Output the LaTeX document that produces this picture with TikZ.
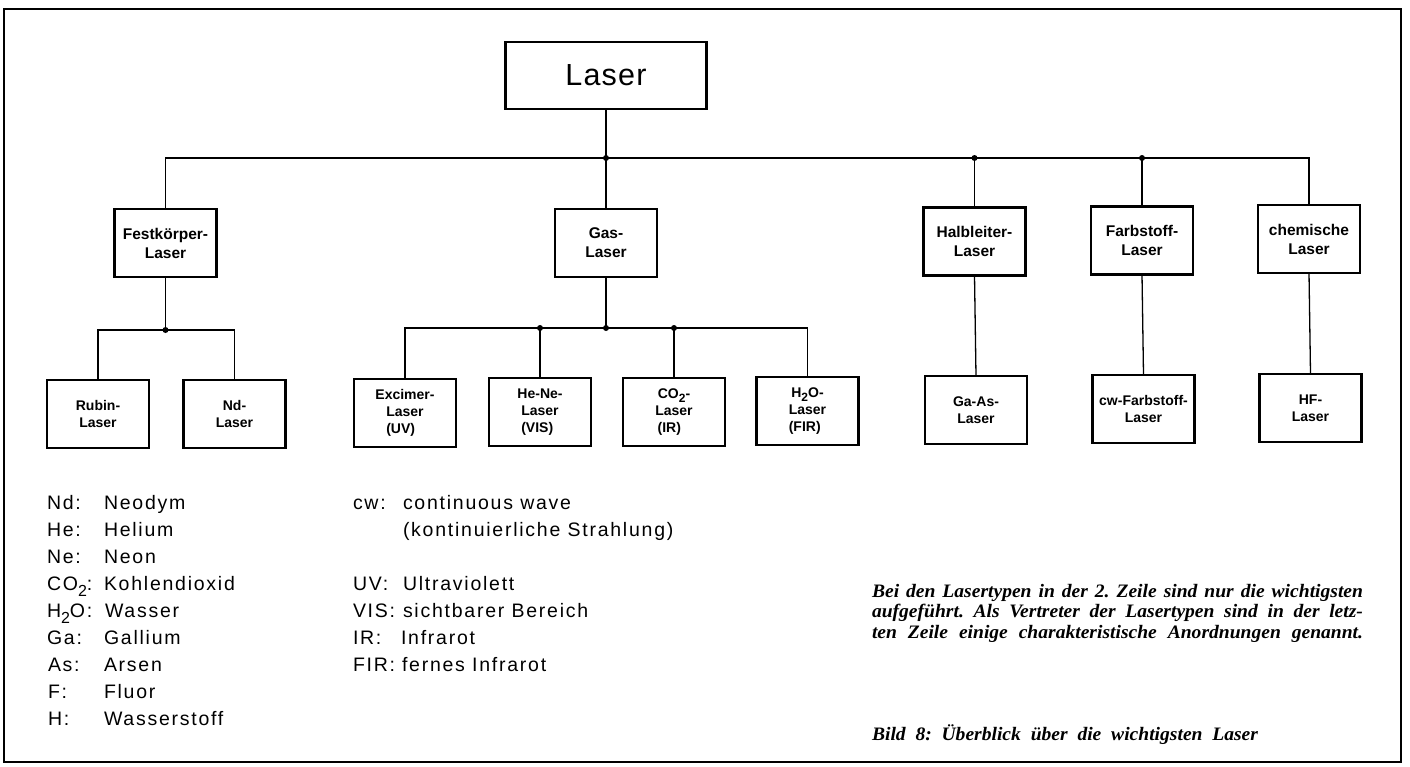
\documentclass[tikz,border=0pt]{standalone}
\usepackage{fontspec}
\setmainfont{Liberation Sans}
\newfontfamily\titlefont[LetterSpace=4]{Liberation Sans}
\newfontfamily\boxfont{Liberation Sans}
\newfontfamily\legfont[LetterSpace=9]{Liberation Sans}
\newfontfamily\capfont[FakeStretch=1.03]{Liberation Serif}
\newcommand{\lasunder}[1]{\rlap{#1}\phantom{Laser}}
\newcommand{\subtwo}[1]{\raisebox{-0.32em}{\fontsize{#1}{#1}\selectfont 2}}
\frenchspacing
\begin{document}
\begin{tikzpicture}[x=1pt,y=-1pt,
  every node/.style={inner sep=0pt, outer sep=0pt},
  titlebox/.style={draw, line width=2.2pt, minimum width=201pt, minimum height=67pt,
    font=\titlefont\fontsize{30.5}{36}\selectfont},
  typebox/.style={draw, line width=2.2pt, minimum width=102pt, minimum height=68pt,
    align=center, font=\boxfont\bfseries\fontsize{15.5}{19}\selectfont},
  leafbox/.style={draw, line width=2.2pt, minimum width=102pt, minimum height=68pt,
    align=center, font=\boxfont\bfseries\fontsize{14}{17}\selectfont},
  conn/.style={line width=1.3pt},
  junction/.style={fill, circle, minimum size=6pt},
  legend/.style={anchor=base west, font=\legfont\fontsize{19.5}{24}\selectfont},
  captext/.style={anchor=base west, font=\capfont\bfseries\itshape\fontsize{19}{21}\selectfont}
]
\useasboundingbox (0,0) rectangle (1410,766);
\fill[white] (0,0) rectangle (1410,766);
\draw[line width=2.5pt] (4,9) rectangle (1401,762);

% level 1
\node[titlebox] (laser) at (606,75.5) {Laser};

% level 2
\node[typebox] (fest) at (165.5,243) {Festkörper-\\Laser};
\node[typebox] (gas)  at (606,243) {Gas-\\Laser};
\node[typebox] (halb) at (974.5,241.5) {Halbleiter-\\Laser};
\node[typebox] (farb) at (1142,240.5) {Farbstoff-\\Laser};
\node[typebox] (chem) at (1309,239) {chemische\\Laser};

% level 3
\node[leafbox] (rubin) at (98,414) {Rubin-\\Laser};
\node[leafbox] (nd)    at (234.5,414) {Nd-\\Laser};
\node[leafbox] (exc)   at (405,413) {Excimer-\\Laser\\\lasunder{(UV)}};
\node[leafbox] (hene)  at (540,412) {He-Ne-\\Laser\\\lasunder{(VIS)}};
\node[leafbox] (co2)   at (674,412) {CO\subtwo{12}-\\Laser\\\lasunder{\,(IR)}};
\node[leafbox] (h2o)   at (807.5,411) {H\subtwo{12}O-\\Laser\\\lasunder{(FIR)}};
\node[leafbox] (gaas)  at (976,410) {Ga-As-\\Laser};
\node[leafbox] (cwf)   at (1143.5,409) {cw-Farbstoff-\\Laser};
\node[leafbox] (hf)    at (1310.5,408) {HF-\\Laser};

% bus coordinates
\coordinate (bus) at (606,158);
\coordinate (subA) at (166,330);
\coordinate (subB) at (606,328);

% main bus
\draw[conn] (laser.south) -- (gas.north);
\draw[conn] (fest.north) |- (chem.north |- bus) -- (chem.north);
\draw[conn] (halb.north |- bus) -- (halb.north);
\draw[conn] (farb.north |- bus) -- (farb.north);
\node[junction] (j1) at (gas.north |- bus) {};
\node[junction] (j2) at (halb.north |- bus) {};
\node[junction] (j3) at (farb.north |- bus) {};

% Festkoerper sub-bus
\draw[conn] (fest.south) -- (fest.south |- subA);
\draw[conn] (rubin.north) |- (nd.north |- subA) -- (nd.north);
\node[junction] (j4) at (fest.south |- subA) {};

% Gas sub-bus
\draw[conn] (gas.south) -- (gas.south |- subB);
\draw[conn] (exc.north) |- (h2o.north |- subB) -- (h2o.north);
\draw[conn] (hene.north |- subB) -- (hene.north);
\draw[conn] (co2.north |- subB) -- (co2.north);
\node[junction] (j5) at (hene.north |- subB) {};
\node[junction] (j6) at (gas.south |- subB) {};
\node[junction] (j7) at (co2.north |- subB) {};

% direct lines
\draw[conn] (halb.south) -- (gaas.north);
\draw[conn] (farb.south) -- (cwf.north);
\draw[conn] (chem.south) -- (hf.north);

% legend left
\node[legend] (l1) at (47,509) {Nd:};  \node[legend] (v1) at (104,509) {Neodym};
\node[legend] (l2) at (47,536) {He:};  \node[legend] (v2) at (104,536) {Helium};
\node[legend] (l3) at (47,563.5) {Ne:};  \node[legend] (v3) at (104,563.5) {Neon};
\node[legend] (l4) at (47,590) {CO\subtwo{16}:};  \node[legend] (v4) at (104,590) {Kohlendioxid};
\node[legend] (l5) at (47,617.5) {H\subtwo{16}O:};  \node[legend] (v5) at (105,617.5) {Wasser};
\node[legend] (l6) at (47,644) {Ga:};  \node[legend] (v6) at (104,644) {Gallium};
\node[legend] (l7) at (48,671.5) {As:};  \node[legend] (v7) at (104,671.5) {Arsen};
\node[legend] (l8) at (48,698.5) {F:};  \node[legend] (v8) at (104,698.5) {Fluor};
\node[legend] (l9) at (48,725.5) {H:};  \node[legend] (v9) at (104,725.5) {Wasserstoff};

% legend right
\node[legend] (r1) at (353,509) {cw:};  \node[legend] (w1) at (403,509) {continuous wave};
\node[legend] (w1b) at (403,536) {(kontinuierliche Strahlung)};
\node[legend] (r2) at (353,590) {UV:};  \node[legend] (w2) at (403,590) {Ultraviolett};
\node[legend] (r3) at (353,617.5) {VIS:};  \node[legend] (w3) at (403,617.5) {sichtbarer Bereich};
\node[legend] (r4) at (353,644) {IR:};  \node[legend] (w4) at (401,644) {Infrarot};
\node[legend] (r5) at (353,671.5) {FIR:};  \node[legend] (w5) at (402,671.5) {fernes Infrarot};

% caption
\node[captext] (c1) at (872,597) {\makebox[491pt][s]{Bei den Lasertypen in der 2. Zeile sind nur die wichtigsten}};
\node[captext] (c2) at (872,617.5) {\makebox[491pt][s]{aufgeführt. Als Vertreter der Lasertypen sind in der letz-}};
\node[captext] (c3) at (872,638) {\makebox[491pt][s]{ten Zeile einige charakteristische Anordnungen genannt.}};
\node[captext] (c4) at (872,740) {\makebox[386pt][s]{Bild 8: Überblick über die wichtigsten Laser}};
\end{tikzpicture}
\end{document}
